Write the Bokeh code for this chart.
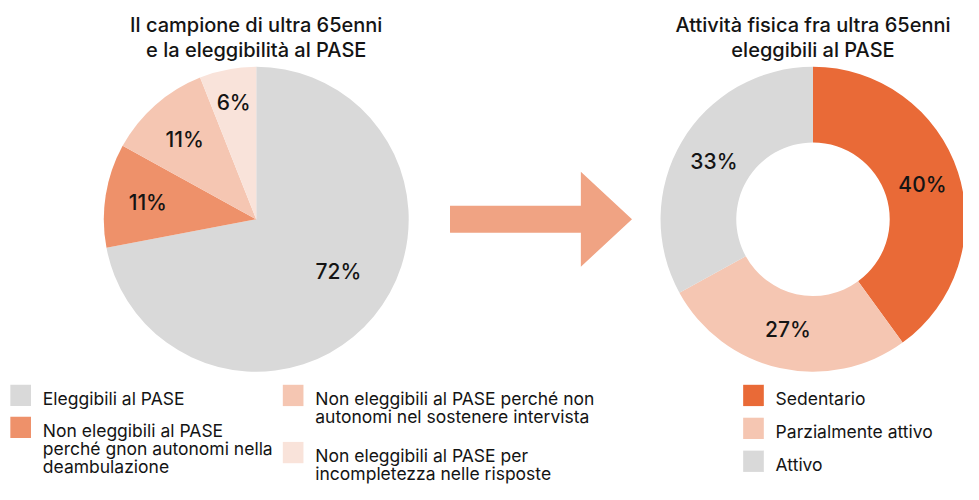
import math
from bokeh.plotting import figure
from bokeh.models import Range1d, ColumnDataSource
from bokeh.core.properties import value
from bokeh.embed import file_html
from bokeh.resources import INLINE

# ---------------- data ----------------
left_title = ["Il campione di ultra 65enni", "e la eleggibilità al PASE"]
left_categories = [
    "Eleggibili al PASE",
    "Non eleggibili al PASE perché gnon autonomi nella deambulazione",
    "Non eleggibili al PASE perché non autonomi nel sostenere intervista",
    "Non eleggibili al PASE per incompletezza nelle risposte",
]
left_values = [72, 11, 11, 6]

right_title = ["Attività fisica fra ultra 65enni", "eleggibili al PASE"]
right_categories = ["Sedentario", "Parzialmente attivo", "Attivo"]
right_values = [40, 27, 33]

# ---------------- style ----------------
left_colors = ["#d9d9d9", "#ee916a", "#f5c6b2", "#f9e3da"]
right_colors = ["#e96a37", "#f5c6b2", "#d9d9d9"]
arrow_color = "#f0a383"
FONT = "Inter"
FONT_MED = "Inter Medium"
TXT = "#141414"

W, H = 963, 484
# layout coords: x = reference px, y = 500 - reference px
def Y(py):
    return 500 - py

p = figure(width=W, height=H, x_range=Range1d(0, 979), y_range=Range1d(0, 500),
           output_backend="svg", toolbar_location=None, min_border=0)
p.axis.visible = False
p.grid.visible = False
p.outline_line_color = None
p.background_fill_color = "white"

def wedges(vals):
    tot = sum(vals)
    starts, ends, mids = [], [], []
    a = math.pi / 2
    for v in vals:
        sweep = 2 * math.pi * v / tot
        starts.append(a - sweep)
        ends.append(a)
        mids.append(a - sweep / 2)
        a -= sweep
    return starts, ends, mids

# ---------- left pie ----------
LCX, LCY, LR = 260, Y(226), 155
s, e, m = wedges(left_values)
src = ColumnDataSource(dict(start=s, end=e, color=left_colors))
p.wedge(x=LCX, y=LCY, radius=LR, start_angle="start", end_angle="end",
        fill_color="color", line_color=None, source=src)
label_r = [0.64, 0.72, 0.71, 0.79]
label_da = [0.12, 0.0, 0.0, 0.0]   # small angular nudge of the label
lx = [LCX + LR * f * math.cos(a + d) for f, a, d in zip(label_r, m, label_da)]
ly = [LCY + LR * f * math.sin(a + d) for f, a, d in zip(label_r, m, label_da)]
p.text(x=lx, y=ly, text=[f"{v}%" for v in left_values], text_align="center",
       text_baseline="middle", text_font=value(FONT_MED), text_font_size="21px",
       text_color=TXT)

# ---------- right donut ----------
RCX, RCY, RR, RIN = 826, Y(226), 155, 78
s, e, m = wedges(right_values)
src2 = ColumnDataSource(dict(start=s, end=e, color=right_colors))
p.annular_wedge(x=RCX, y=RCY, inner_radius=RIN, outer_radius=RR, start_angle="start",
                end_angle="end", fill_color="color", line_color=None, source=src2)
rl = 117
p.text(x=[RCX + rl * math.cos(a) for a in m], y=[RCY + rl * math.sin(a) for a in m],
       text=[f"{v}%" for v in right_values], text_align="center", text_baseline="middle",
       text_font=value(FONT_MED), text_font_size="21px", text_color=TXT)

# ---------- arrow ----------
ax = [457, 590, 590, 642, 590, 590, 457]
ay = [Y(212), Y(212), Y(177), Y(226), Y(275), Y(240), Y(240)]
p.patch(ax, ay, fill_color=arrow_color, line_color=None)

# ---------- titles ----------
for tx, lines in ((260, left_title), (826, right_title)):
    p.text(x=[tx, tx], y=[Y(25), Y(51)], text=lines, text_align="center",
           text_baseline="middle", text_font=value(FONT_MED), text_font_size="20px",
           text_color=TXT)

# ---------- legends ----------
def legend_item(x, ytop, color, lines, lh=18.5):
    p.rect(x=x + 10.5, y=Y(ytop + 11), width=21, height=22, fill_color=color, line_color=None)
    ys = [Y(ytop + 14 + i * lh) for i in range(len(lines))]
    p.text(x=[x + 33] * len(lines), y=ys, text=lines, text_align="left",
           text_baseline="middle", text_font=value(FONT), text_font_size="17.5px",
           text_color=TXT)

legend_item(10, 397, left_colors[0], ["Eleggibili al PASE"])
legend_item(10, 430, left_colors[1], ["Non eleggibili al PASE", "perché gnon autonomi nella", "deambulazione"])
legend_item(287, 397, left_colors[2], ["Non eleggibili al PASE perché non", "autonomi nel sostenere intervista"])
legend_item(287, 456, left_colors[3], ["Non eleggibili al PASE per", "incompletezza nelle risposte"])

legend_item(755, 397, right_colors[0], [right_categories[0]])
legend_item(755, 431, right_colors[1], [right_categories[1]])
legend_item(755, 465, right_colors[2], [right_categories[2]])

open("out.html", "w").write(file_html(p, INLINE))
